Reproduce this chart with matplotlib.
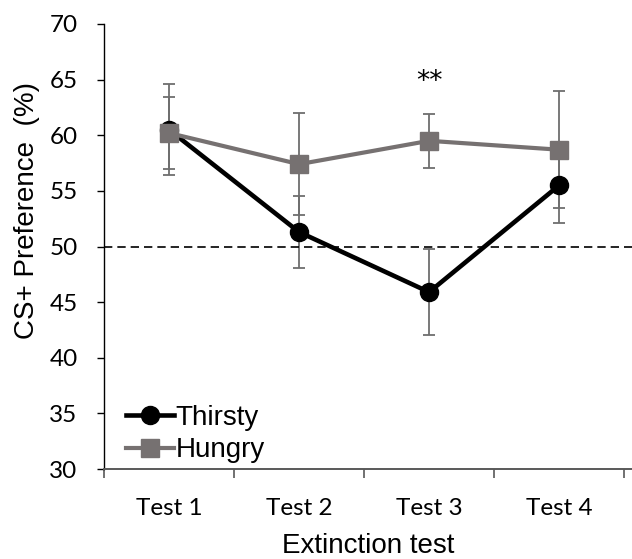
import matplotlib.pyplot as plt
from matplotlib.ticker import FixedLocator

# Data
tests = ["Test 1", "Test 2", "Test 3", "Test 4"]
thirsty = [60.5, 51.3, 45.9, 55.5]
thirsty_err = [4.1, 3.2, 3.85, 3.4]
hungry = [60.2, 57.4, 59.5, 58.7]
hungry_err = [3.2, 4.6, 2.45, 5.25]
chance_level = 50
star_test = 2
star_y = 64.8


def main():
    fig = plt.figure(figsize=(6.32, 5.59), dpi=100)
    ax = fig.add_axes([104 / 632, 1 - 469 / 559, 528 / 632, 445 / 559])

    x = list(range(len(tests)))
    err_color = "#6e6e6e"
    gray = "#767171"

    # Error bars sit underneath the lines and markers
    ax.errorbar(x, thirsty, yerr=thirsty_err, fmt="none", ecolor=err_color,
                elinewidth=1.3, capsize=4.5, capthick=1.3, zorder=1)
    ax.errorbar(x, hungry, yerr=hungry_err, fmt="none", ecolor=err_color,
                elinewidth=1.3, capsize=4.5, capthick=1.3, zorder=1)

    ax.plot(x, thirsty, color="black", lw=3.3, marker="o", ms=13,
            label="Thirsty", zorder=3)
    ax.plot(x, hungry, color=gray, lw=3.0, marker="s", ms=12.5,
            label="Hungry", zorder=4)

    ax.axhline(chance_level, color="black", lw=1.2, ls=(0, (5, 3)), zorder=2)
    ax.text(star_test, star_y, "**", ha="center", va="center", fontsize=19,
            family="DejaVu Sans")

    ax.set_xlim(-0.5, 3.56)
    ax.set_ylim(30, 70)
    ax.set_yticks(range(30, 71, 5))

    # Category labels in the middle, tick marks on the boundaries
    ax.set_xticks(x)
    ax.set_xticklabels(tests)
    ax.xaxis.set_minor_locator(FixedLocator([-0.5, 0.5, 1.5, 2.5, 3.5]))
    ax.tick_params(axis="x", which="major", length=0, pad=21, labelsize=17.5)
    ax.tick_params(axis="x", which="minor", length=6.5, width=1.2,
                   color="#595959", direction="out")
    ax.tick_params(axis="y", length=5, width=1, pad=14, labelsize=17.5)
    for lab in ax.get_xticklabels() + ax.get_yticklabels():
        lab.set_family("Lato")

    for side in ["top", "right"]:
        ax.spines[side].set_visible(False)
    ax.spines["bottom"].set_color("#595959")
    ax.spines["bottom"].set_linewidth(1.4)
    ax.spines["left"].set_linewidth(1.0)

    ax.set_xlabel("Extinction test", family="Liberation Sans", fontsize=20,
                  labelpad=10)
    ax.set_ylabel("CS+ Preference  (%)", family="Liberation Sans",
                  fontsize=20)
    ax.yaxis.set_label_coords(-0.122, 0.58)

    ax.legend(loc="lower left", bbox_to_anchor=(0.02, -0.012), frameon=False,
              handlelength=1.75, handletextpad=0.05, labelspacing=0.22,
              borderaxespad=0.0,
              prop={"family": "Liberation Sans", "size": 20})

    fig.savefig("out.png", dpi=100)


if __name__ == "__main__":
    main()
